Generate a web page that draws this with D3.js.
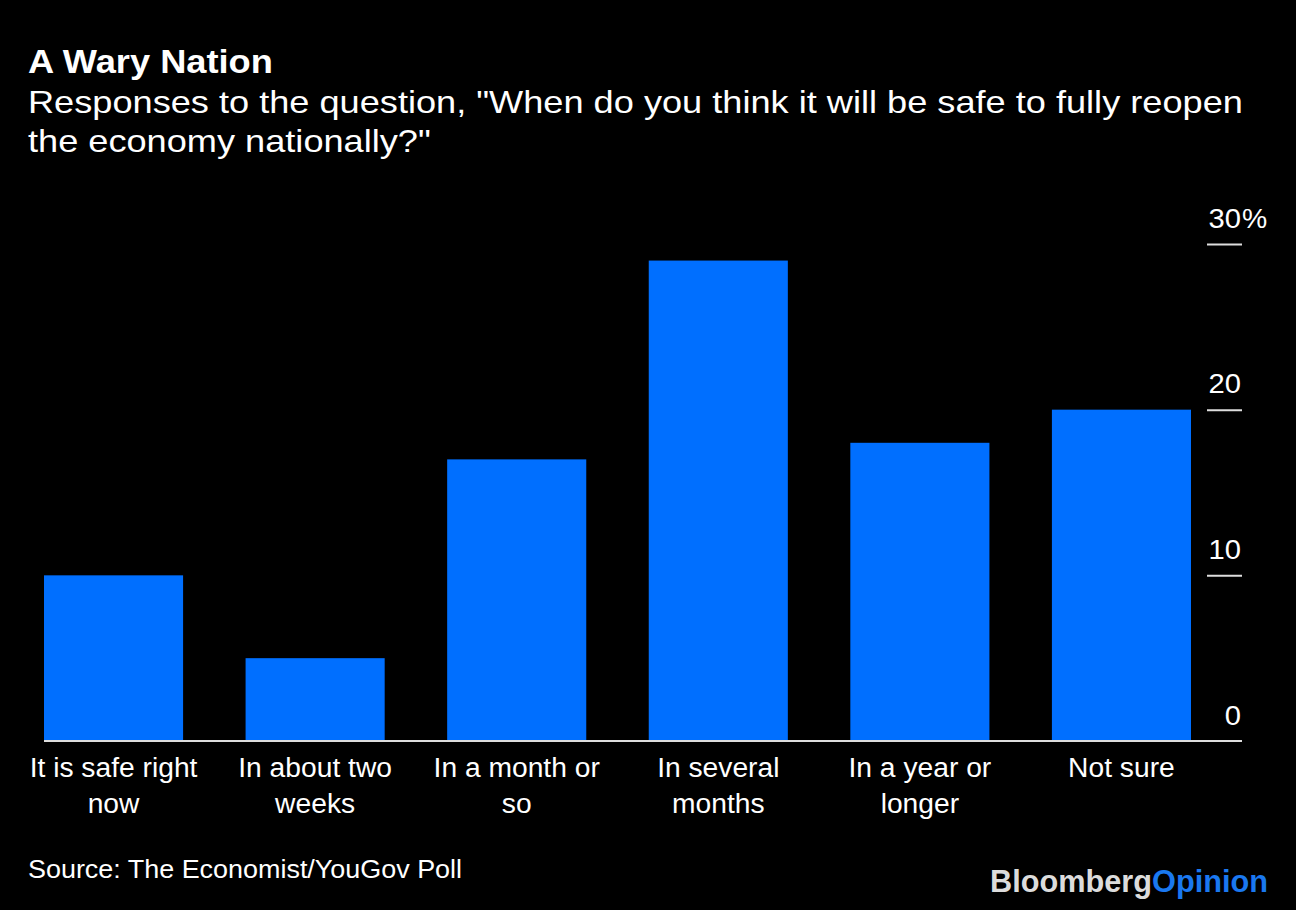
<!DOCTYPE html>
<html>
<head>
<meta charset="utf-8">
<script src="https://cdn.jsdelivr.net/npm/d3@7"></script>
<style>
  html, body { margin: 0; padding: 0; background: #000; }
  svg { display: block; }
  text { font-family: "Liberation Sans", Arial, Helvetica, sans-serif; fill: #fff; }
</style>
</head>
<body>
<svg id="chart" width="1296" height="910"></svg>
<script>
const categories = [
  ["It is safe right", "now"],
  ["In about two", "weeks"],
  ["In a month or", "so"],
  ["In several", "months"],
  ["In a year or", "longer"],
  ["Not sure"]
];
const values = [10, 5, 17, 29, 18, 20];
const yTicks = [0, 10, 20, 30];
const title = "A Wary Nation";
const subtitleLines = [
  "Responses to the question, \"When do you think it will be safe to fully reopen",
  "the economy nationally?\""
];
const source = "Source: The Economist/YouGov Poll";

const svg = d3.select("#chart");
svg.append("rect").attr("width", 1296).attr("height", 910).attr("fill", "#000");

// widen Liberation Sans a bit to mimic the wider reference face
function stretch(sel, factor) {
  sel.each(function() {
    const w = this.getComputedTextLength();
    d3.select(this).attr("textLength", w * factor).attr("lengthAdjust", "spacingAndGlyphs");
  });
}

const keys = categories.map((c, i) => i);
const x = d3.scaleBand().domain(keys).range([44, 1191]).paddingInner(0.31).paddingOuter(0);
const y = d3.scaleLinear().domain([0, 30]).range([741, 244]);

// title / subtitle
svg.append("text").attr("x", 28).attr("y", 73).attr("font-size", 34).attr("font-weight", 700)
  .text(title).call(stretch, 1.065);
subtitleLines.forEach((l, i) => {
  svg.append("text").attr("x", 28).attr("y", 113 + i * 39).attr("font-size", 32)
    .text(l).call(stretch, 1.13);
});

// bars
svg.append("g").selectAll("rect").data(values).join("rect")
  .attr("x", (d, i) => x(i))
  .attr("width", x.bandwidth())
  .attr("y", d => y(d))
  .attr("height", d => y(0) - y(d))
  .attr("fill", "#006fff");

// baseline
svg.append("line").attr("x1", 44).attr("x2", 1242).attr("y1", y(0)).attr("y2", y(0))
  .attr("stroke", "#dedede").attr("stroke-width", 2);

// right axis ticks
const yAxis = d3.axisRight(y).tickValues(yTicks).tickSize(0).tickFormat(d => d);
const ag = svg.append("g").attr("transform", "translate(1242,0)").call(yAxis);
ag.select(".domain").remove();
ag.selectAll(".tick line").remove();
ag.selectAll(".tick").each(function(d) {
  const t = d3.select(this);
  t.select("text").remove();
  if (d !== 0) {
    t.append("line").attr("x1", -35).attr("x2", 0).attr("stroke", "#dedede").attr("stroke-width", 2);
  }
  t.append("text").attr("x", -1).attr("y", -17).attr("text-anchor", "end")
    .attr("font-size", 27).attr("fill", "#fff")
    .text(d).call(stretch, 1.08);
  if (d === d3.max(yTicks)) {
    t.append("text").attr("x", 0).attr("y", -17).attr("text-anchor", "start")
      .attr("font-size", 27).attr("fill", "#fff")
      .text("%").call(stretch, 1.05);
  }
});

// category labels
const lg = svg.append("g");
categories.forEach((lines, i) => {
  lines.forEach((l, j) => {
    lg.append("text").attr("font-size", 27).attr("text-anchor", "middle")
      .attr("x", x(i) + x.bandwidth() / 2).attr("y", 777 + j * 36).text(l)
      .call(stretch, 1.045);
  });
});

// source
svg.append("text").attr("x", 28).attr("y", 878).attr("font-size", 25).text(source)
  .call(stretch, 1.077);

// logo
const logo = svg.append("text").attr("x", 990).attr("y", 892).attr("font-size", 31)
  .attr("font-weight", 700).attr("textLength", 278).attr("lengthAdjust", "spacingAndGlyphs");
logo.append("tspan").attr("fill", "#dcdcdc").text("Bloomberg");
logo.append("tspan").attr("fill", "#1a78f0").text("Opinion");
</script>
</body>
</html>
